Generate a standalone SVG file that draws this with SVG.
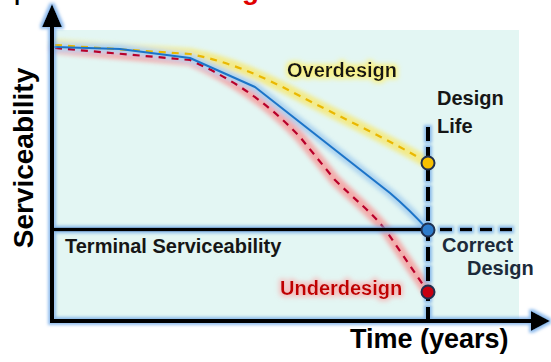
<svg xmlns="http://www.w3.org/2000/svg" width="551" height="362" viewBox="0 0 551 362">
<style>
text{font-family:"Liberation Sans",Arial,sans-serif;font-weight:bold;}
.lbl{font-size:20px;fill:#161616;}
.axisline{stroke:#000;stroke-width:4;fill:none;}
.dot{stroke:#1f3050;stroke-width:2;}
</style>
<defs>
<filter id="haloBlue" x="-20%" y="-20%" width="140%" height="140%">
<feMorphology in="SourceAlpha" operator="dilate" radius="2" result="d"/>
<feGaussianBlur in="d" stdDeviation="1.5" result="b"/>
<feFlood flood-color="#6fa8e8" flood-opacity="0.75"/>
<feComposite in2="b" operator="in" result="g"/>
<feMerge><feMergeNode in="g"/><feMergeNode in="SourceGraphic"/></feMerge>
</filter>
<filter id="haloY" x="-20%" y="-60%" width="140%" height="220%">
<feMorphology in="SourceAlpha" operator="dilate" radius="2" result="d"/>
<feGaussianBlur in="d" stdDeviation="2.5" result="b"/>
<feFlood flood-color="#fff06a" flood-opacity="0.75"/>
<feComposite in2="b" operator="in" result="g"/>
<feMerge><feMergeNode in="g"/><feMergeNode in="SourceGraphic"/></feMerge>
</filter>
<filter id="haloR" x="-20%" y="-60%" width="140%" height="220%">
<feMorphology in="SourceAlpha" operator="dilate" radius="2" result="d"/>
<feGaussianBlur in="d" stdDeviation="2.5" result="b"/>
<feFlood flood-color="#ff9a9a" flood-opacity="0.6"/>
<feComposite in2="b" operator="in" result="g"/>
<feMerge><feMergeNode in="g"/><feMergeNode in="SourceGraphic"/></feMerge>
</filter>
<filter id="blur" x="-10%" y="-10%" width="120%" height="120%">
<feGaussianBlur stdDeviation="2"/>
</filter>
</defs>

<!-- cropped title fragments -->
<text x="11" y="5" font-size="20" fill="#000">T</text>
<text x="242" y="-1" font-size="28" fill="#e00000">g</text>

<!-- panel -->
<rect id="panel" x="55" y="30" width="464" height="290" fill="#e3f6f3"/>

<!-- curves -->
<g id="curves" fill="none" stroke-linejoin="round" stroke-linecap="round">
<g filter="url(#blur)" opacity="0.55">
<path d="M55,45 L190,54 C230,62 260,75 300,96 S390,140 428,163" stroke="#ffe135" stroke-width="11"/>
<path d="M55,48 L190,60 C230,78 265,100 300,137 L335,180 C355,200 372,212 387,232 L428,292" stroke="#ff7070" stroke-width="11"/>
<path d="M55,47 L120,49 L190,58 L255,87 L390,193 Q410,210 428,230" stroke="#7fb6ec" stroke-width="9"/>
</g>
<path d="M55,45 L190,54 C230,62 260,75 300,96 S390,140 428,163" stroke="#eab800" stroke-width="2.2" stroke-dasharray="7 6" stroke-linecap="butt"/>
<path d="M55,48 L190,60 C230,78 265,100 300,137 L335,180 C355,200 372,212 387,232 L428,292" stroke="#b8002a" stroke-width="2.2" stroke-dasharray="7 6" stroke-linecap="butt"/>
<path d="M55,47 L120,49 L190,58 L255,87 L390,193 Q410,210 428,230" stroke="#1c74c8" stroke-width="2"/>
</g>

<!-- axes and reference lines -->
<g id="axes" filter="url(#haloBlue)">
<line class="axisline" x1="52" y1="321" x2="52" y2="24"/>
<polygon points="52,4 42,27 62,27" fill="#000"/>
<line class="axisline" x1="50" y1="321" x2="533" y2="321"/>
<polygon points="550,321 531,311 531,331" fill="#000"/>
<line class="axisline" x1="52" y1="229.5" x2="428" y2="229.5" style="stroke-width:3.5"/>
<line class="axisline" x1="440" y1="229.5" x2="516" y2="229.5" style="stroke-width:3.5" stroke-dasharray="12 8"/>
<line class="axisline" x1="428" y1="127" x2="428" y2="319" stroke-dasharray="14 6"/>
</g>

<!-- markers -->
<g id="dots">
<circle class="dot" cx="428" cy="163" r="6.5" fill="#f8c100"/>
<circle class="dot" cx="428" cy="230" r="6.5" fill="#2e7ccc"/>
<circle class="dot" cx="428" cy="292" r="6.5" fill="#c80010"/>
</g>

<!-- labels -->
<g id="labels">
<text transform="translate(33,158) rotate(-90)" text-anchor="middle" font-size="28" fill="#000">Serviceability</text>
<text x="350" y="348" font-size="27" fill="#000">Time (years)</text>
<text class="lbl" x="287" y="77" filter="url(#haloY)">Overdesign</text>
<text class="lbl" x="437" y="105" fill="#000">Design</text>
<text class="lbl" x="437" y="133" fill="#000">Life</text>
<text class="lbl" x="65" y="253">Terminal Serviceability</text>
<text class="lbl" x="442" y="252" style="fill:#1c2a3a">Correct</text>
<text class="lbl" x="467" y="275" style="fill:#1c2a3a">Design</text>
<text class="lbl" x="280" y="295" style="fill:#c00000" filter="url(#haloR)">Underdesign</text>
</g>
</svg>
